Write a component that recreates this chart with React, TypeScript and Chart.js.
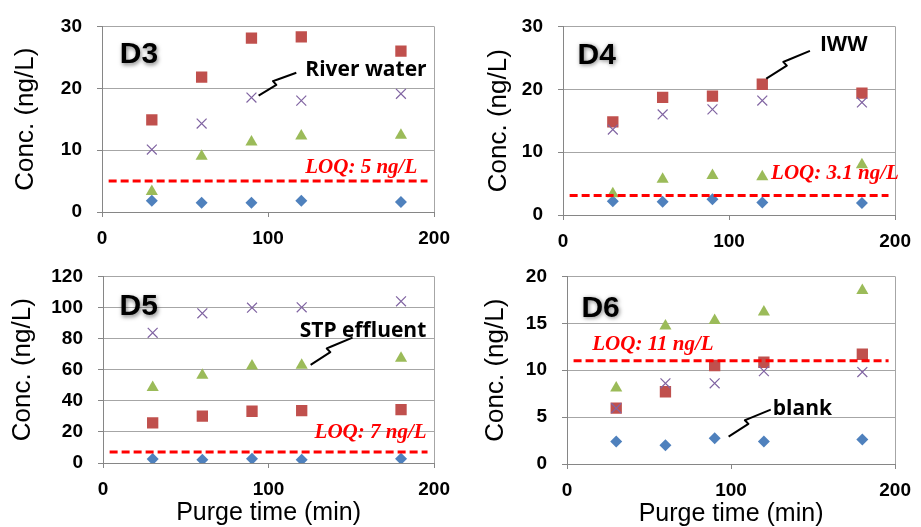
import { useEffect, useRef } from "react";
import { Chart, registerables } from "chart.js";

Chart.register(...registerables);

// Purge times (min) shared by every sample
const purgeTimes = [30, 60, 90, 120, 180];

// D3 concentrations (ng/L)
const blankD3 = [1.8, 1.5, 1.5, 1.8, 1.6];
const iwwD3 = [14.9, 21.8, 28.1, 28.3, 26.0];
const stpD3 = [3.3, 9.0, 11.3, 12.3, 12.4];
const riverD3 = [10.1, 14.3, 18.5, 18.0, 19.1];

// D4 concentrations (ng/L)
const blankD4 = [2.2, 2.1, 2.5, 2.0, 1.9];
const iwwD4 = [14.8, 18.7, 18.9, 20.8, 19.4];
const stpD4 = [3.4, 5.7, 6.3, 6.1, 8.0];
const riverD4 = [13.6, 16.0, 16.8, 18.2, 17.9];

// D5 concentrations (ng/L)
const blankD5 = [2.5, 2.1, 2.7, 2.1, 2.7];
const iwwD5 = [25.8, 30.2, 33.3, 33.7, 34.3];
const stpD5 = [48.6, 56.5, 62.4, 62.8, 67.4];
const riverD5 = [83.7, 96.3, 99.9, 100.1, 104.0];

// D6 concentrations (ng/L)
const blankD6 = [2.4, 2.0, 2.75, 2.4, 2.6];
const iwwD6 = [5.95, 7.7, 10.5, 10.85, 11.7];
const stpD6 = [8.1, 14.7, 15.3, 16.2, 18.5];
const riverD6 = [5.95, 8.6, 8.6, 9.9, 9.8];

const compounds = ["D3", "D4", "D5", "D6"];
const loqLevels = [5, 3.1, 7, 11];
const loqLabels = ["LOQ: 5 ng/L", "LOQ: 3.1 ng/L", "LOQ: 7 ng/L", "LOQ: 11 ng/L"];
const loqSpan = [4, 196];
const yMaxima = [30, 30, 120, 20];
const ySteps = [10, 10, 20, 5];
const xMax = 200;
const xStep = 100;
const calloutTexts = ["River water", "IWW", "STP effluent", "blank"];
const yTitle = "Conc. (ng/L)";
const xTitle = "Purge time (min)";

const seriesByPanel = [
  { blank: blankD3, iww: iwwD3, stp: stpD3, river: riverD3 },
  { blank: blankD4, iww: iwwD4, stp: stpD4, river: riverD4 },
  { blank: blankD5, iww: iwwD5, stp: stpD5, river: riverD5 },
  { blank: blankD6, iww: iwwD6, stp: stpD6, river: riverD6 },
];

// Panel geometry (pixels) and annotation anchors (in axis units)
type Layout = {
  left: number; top: number; w: number; h: number;
  yAxisW: number; xAxisH: number; padTop: number; padRight: number;
  yTitlePad: number; xTitle: boolean; xTitlePad: number;
  tag: [number, number];
  loqText: [number, number];
  calloutText: [number, number];
  calloutFrom: [number, number];
  calloutTo: [number, number];
};

const layouts: Layout[] = [
  {
    left: 0, top: 0, w: 460, h: 250, yAxisW: 102, xAxisH: 38, padTop: 25, padRight: 23,
    yTitlePad: 12.7, xTitle: false, xTitlePad: 0,
    tag: [10.7, 25.4], loqText: [122.4, 7.2],
    calloutText: [122.4, 22.9], calloutFrom: [94.3, 18.8], calloutTo: [117, 22.5],
  },
  {
    left: 460, top: 0, w: 461, h: 250, yAxisW: 103, xAxisH: 35, padTop: 26, padRight: 23,
    yTitlePad: 26, xTitle: false, xTitlePad: 0,
    tag: [8.8, 25.4], loqText: [125.3, 6.66],
    calloutText: [154.7, 27.0], calloutFrom: [122.4, 21.7], calloutTo: [148.7, 26.1],
  },
  {
    left: 0, top: 250, w: 460, h: 277, yAxisW: 103, xAxisH: 64, padTop: 22, padRight: 22,
    yTitlePad: 9.5, xTitle: true, xTitlePad: 1.5,
    tag: [10, 100.4], loqText: [127.8, 19.7],
    calloutText: [118.8, 85], calloutFrom: [125.4, 63.1], calloutTo: [150.7, 80.6],
  },
  {
    left: 460, top: 250, w: 461, h: 277, yAxisW: 107, xAxisH: 63, padTop: 21, padRight: 19,
    yTitlePad: 23, xTitle: true, xTitlePad: 0,
    tag: [8.8, 16.6], loqText: [15.4, 12.74],
    calloutText: [125.4, 5.87], calloutFrom: [98.5, 2.92], calloutTo: [124.2, 5.8],
  },
];

const SANS = "'Liberation Sans', Arial, sans-serif";
const GRID = "#A6A6A6";
const AXIS = "#868686";

const pts = (ys: number[]) => purgeTimes.map((x, i) => ({ x, y: ys[i] }));

function annotationPlugin(idx: number, lay: Layout) {
  return {
    id: "panelNotes" + idx,
    afterDatasetsDraw(chart: any) {
      const { ctx } = chart;
      const xs = chart.scales.x;
      const ys = chart.scales.y;
      const px = (v: [number, number]) => [xs.getPixelForValue(v[0]), ys.getPixelForValue(v[1])];

      // compound tag with a soft shadow
      ctx.save();
      const [tx, ty] = px(lay.tag);
      ctx.font = `bold 30px ${SANS}`;
      ctx.textAlign = "left";
      ctx.textBaseline = "middle";
      ctx.fillStyle = "#000";
      ctx.shadowColor = "rgba(0,0,0,0.5)";
      ctx.shadowBlur = 4;
      ctx.shadowOffsetX = 1;
      ctx.shadowOffsetY = 1.5;
      ctx.fillText(compounds[idx], tx, ty);
      ctx.restore();

      // LOQ label
      ctx.save();
      const [lx, ly] = px(lay.loqText);
      ctx.font = `italic bold 21px 'Liberation Serif', 'Times New Roman', serif`;
      ctx.textAlign = "left";
      ctx.textBaseline = "middle";
      ctx.fillStyle = "#FF0000";
      ctx.fillText(loqLabels[idx], lx, ly);
      ctx.restore();

      // callout with a broken leader line
      ctx.save();
      const [sx, sy] = px(lay.calloutFrom);
      const [ex, ey] = px(lay.calloutTo);
      const dx = ex - sx;
      const dy = ey - sy;
      const len = Math.hypot(dx, dy);
      const nx = dy / len;
      const ny = -dx / len;
      const at = (t: number, k: number) => [sx + dx * t + nx * k, sy + dy * t + ny * k];
      const path = [at(0, 0), at(0.47, 0), at(0.45, 5), at(0.56, 4), at(1, 0)];
      ctx.beginPath();
      ctx.moveTo(path[0][0], path[0][1]);
      for (let i = 1; i < path.length; i++) ctx.lineTo(path[i][0], path[i][1]);
      ctx.strokeStyle = "#000";
      ctx.lineWidth = 2;
      ctx.lineJoin = "round";
      ctx.stroke();
      const [cx, cy] = px(lay.calloutText);
      ctx.font = `bold 21px 'Open Sans', sans-serif`;
      ctx.textAlign = "left";
      ctx.textBaseline = "middle";
      ctx.fillStyle = "#000";
      ctx.fillText(calloutTexts[idx], cx, cy);
      ctx.restore();
    },
  };
}

function Panel({ idx }: { idx: number }) {
  const ref = useRef<HTMLCanvasElement | null>(null);
  const lay = layouts[idx];

  useEffect(() => {
    if (!ref.current) return;
    const s = seriesByPanel[idx];
    const chart = new Chart(ref.current, {
      type: "scatter",
      data: {
        datasets: [
          {
            label: "LOQ",
            type: "line",
            data: loqSpan.map((x) => ({ x, y: loqLevels[idx] })),
            borderColor: "#FF0000",
            borderWidth: 3,
            borderDash: [8, 4],
            pointRadius: 0,
            order: 0,
          } as any,
          {
            label: "River water",
            data: pts(s.river),
            pointStyle: "crossRot",
            pointRadius: 7,
            borderColor: "#8064A2",
            backgroundColor: "#8064A2",
            borderWidth: 1.2,
            order: 1,
          },
          {
            label: "STP effluent",
            data: pts(s.stp),
            pointStyle: "triangle",
            pointRadius: 7,
            borderColor: "#9BBB59",
            backgroundColor: "#9BBB59",
            borderWidth: 0,
            order: 2,
          },
          {
            label: "IWW",
            data: pts(s.iww),
            pointStyle: "rect",
            pointRadius: 8,
            borderColor: "#C0504D",
            backgroundColor: "#C0504D",
            borderWidth: 0,
            order: 3,
          },
          {
            label: "blank",
            data: pts(s.blank),
            pointStyle: "rectRot",
            pointRadius: 6,
            borderColor: "#4F81BD",
            backgroundColor: "#4F81BD",
            borderWidth: 0,
            order: 4,
          },
        ],
      },
      options: {
        animation: false,
        responsive: false,
        events: [],
        layout: { padding: { top: lay.padTop, right: lay.padRight, left: 0, bottom: 0 } },
        plugins: { legend: { display: false }, tooltip: { enabled: false } },
        scales: {
          x: {
            type: "linear",
            min: 0,
            max: xMax,
            afterFit: (sc: any) => { sc.height = lay.xAxisH; },
            ticks: {
              stepSize: xStep,
              color: "#000",
              padding: 10,
              maxRotation: 0,
              font: { family: SANS, size: 19, weight: "bold" },
            },
            grid: {
              color: (c: any) => (c.tick && c.tick.value === xMax ? GRID : "rgba(0,0,0,0)"),
              tickColor: AXIS,
              tickLength: 5,
              drawTicks: true,
            },
            border: { color: AXIS, width: 1 },
            title: {
              display: lay.xTitle,
              text: xTitle,
              color: "#000",
              font: { family: SANS, size: 25, lineHeight: 1 },
              padding: { top: 0, bottom: lay.xTitlePad },
            },
          },
          y: {
            type: "linear",
            min: 0,
            max: yMaxima[idx],
            afterFit: (sc: any) => { sc.width = lay.yAxisW; },
            ticks: {
              stepSize: ySteps[idx],
              color: "#000",
              padding: 15,
              font: { family: SANS, size: 19, weight: "bold" },
            },
            grid: { color: GRID, tickColor: AXIS, tickLength: 5 },
            border: { color: AXIS, width: 1 },
            title: {
              display: true,
              text: yTitle,
              color: "#000",
              font: { family: SANS, size: 26, lineHeight: 1 },
              padding: { top: lay.yTitlePad, bottom: 0 },
            },
          },
        },
      },
      plugins: [annotationPlugin(idx, lay)],
    } as any);
    return () => chart.destroy();
  }, [idx]);

  return (
    <div style={{ position: "absolute", left: lay.left, top: lay.top, width: lay.w, height: lay.h }}>
      <canvas ref={ref} width={lay.w} height={lay.h} style={{ display: "block" }} />
    </div>
  );
}

export default function App() {
  return (
    <div style={{ position: "absolute", left: 0, top: 0, width: 921, height: 527, background: "#fff", overflow: "hidden" }}>
      {compounds.map((_, i) => (
        <Panel key={i} idx={i} />
      ))}
    </div>
  );
}
